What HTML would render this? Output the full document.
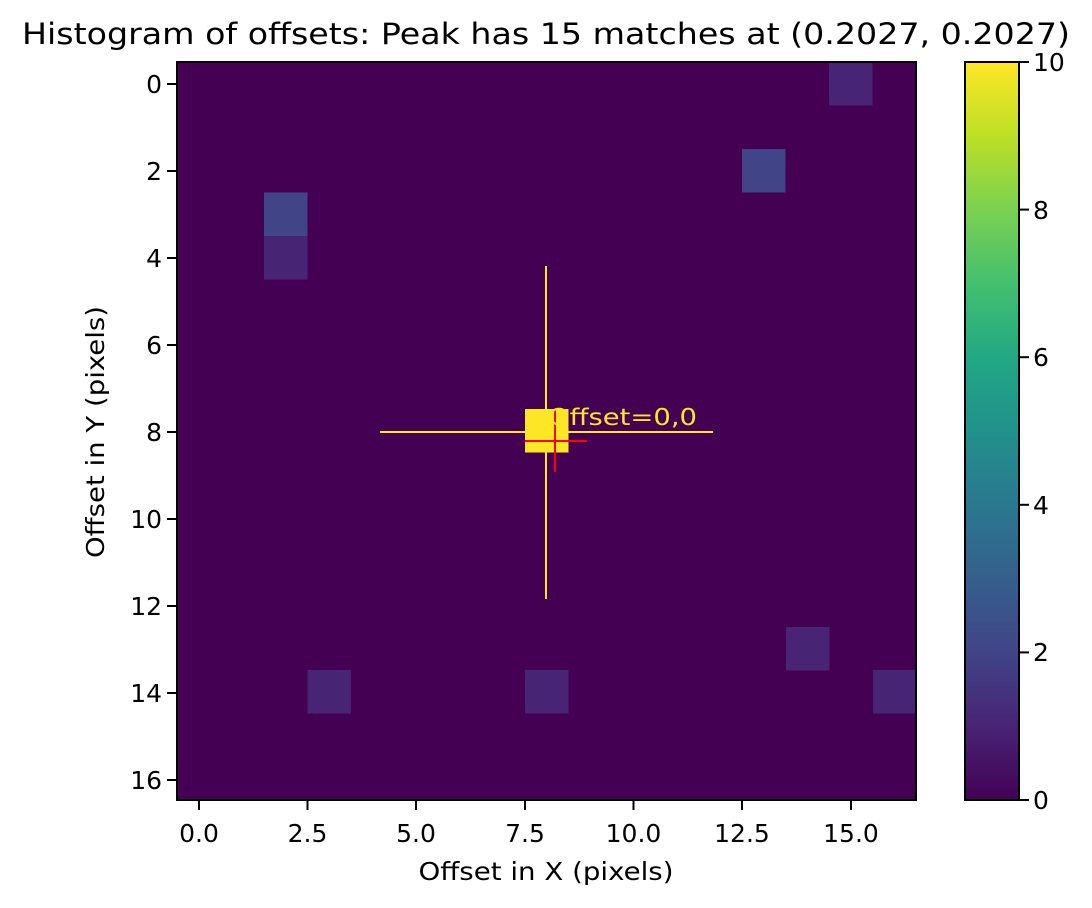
<!DOCTYPE html>
<html><head><style>body{margin:0;background:#fff}svg{display:block}text{font-family:"DejaVu Sans","Liberation Sans",sans-serif}</style></head>
<body>
<svg width="1092" height="908" viewBox="0 0 1092 908" xmlns="http://www.w3.org/2000/svg">
<defs>
<linearGradient id="v" x1="0" y1="1" x2="0" y2="0">
<stop offset="0" stop-color="#440154"/><stop offset="0.1" stop-color="#482475"/><stop offset="0.2" stop-color="#414487"/><stop offset="0.3" stop-color="#355f8d"/><stop offset="0.4" stop-color="#2a788e"/><stop offset="0.5" stop-color="#21918c"/><stop offset="0.6" stop-color="#22a884"/><stop offset="0.7" stop-color="#44bf70"/><stop offset="0.8" stop-color="#7ad151"/><stop offset="0.9" stop-color="#bddf26"/><stop offset="1" stop-color="#fde725"/>
</linearGradient>
</defs>
<text x="546" y="44" font-size="29" text-anchor="middle" textLength="1048" lengthAdjust="spacingAndGlyphs">Histogram of offsets: Peak has 15 matches at (0.2027, 0.2027)</text>
<rect x="177" y="62" width="739" height="738" fill="#440154"/>
<g>
<rect x="829" y="62" width="43.5" height="43.5" fill="#482475"/>
<rect x="742" y="149" width="43.5" height="43.5" fill="#414487"/>
<rect x="264" y="192.5" width="43.5" height="43.5" fill="#414487"/>
<rect x="264" y="236" width="43.5" height="43.5" fill="#482475"/>
<rect x="525" y="409" width="43.5" height="43.5" fill="#fde725"/>
<rect x="786" y="627" width="43.5" height="43.5" fill="#482475"/>
<rect x="307.5" y="670" width="43.5" height="43.5" fill="#482475"/>
<rect x="525" y="670" width="43.5" height="43.5" fill="#482475"/>
<rect x="873" y="670" width="43.5" height="43.5" fill="#482475"/>
</g>
<line x1="380" y1="432" x2="713" y2="432" stroke="#fde725" stroke-width="2"/>
<line x1="546" y1="266" x2="546" y2="599" stroke="#fde725" stroke-width="2"/>
<line x1="525" y1="441" x2="587" y2="441" stroke="#ff0000" stroke-width="2"/>
<line x1="555" y1="410" x2="555" y2="472" stroke="#ff0000" stroke-width="2"/>
<text x="548" y="425" font-size="23" fill="#fde725" textLength="149" lengthAdjust="spacingAndGlyphs">Offset=0,0</text>
<rect x="177" y="62" width="739" height="738" fill="none" stroke="#000" stroke-width="2"/>
<g font-size="25" text-anchor="middle">
<g stroke="#000" stroke-width="2">
<line x1="199" y1="800" x2="199" y2="810"/><line x1="307.5" y1="800" x2="307.5" y2="810"/><line x1="416" y1="800" x2="416" y2="810"/><line x1="525" y1="800" x2="525" y2="810"/><line x1="633.5" y1="800" x2="633.5" y2="810"/><line x1="742" y1="800" x2="742" y2="810"/><line x1="851" y1="800" x2="851" y2="810"/>
</g>
<text x="199" y="842">0.0</text><text x="307.5" y="842">2.5</text><text x="416" y="842">5.0</text><text x="525" y="842">7.5</text><text x="633.5" y="842">10.0</text><text x="742" y="842">12.5</text><text x="851" y="842">15.0</text>
<text x="546" y="880" textLength="255" lengthAdjust="spacingAndGlyphs">Offset in X (pixels)</text>
</g>
<g font-size="25" text-anchor="end">
<g stroke="#000" stroke-width="2">
<line x1="167" y1="84" x2="177" y2="84"/><line x1="167" y1="171" x2="177" y2="171"/><line x1="167" y1="258" x2="177" y2="258"/><line x1="167" y1="345" x2="177" y2="345"/><line x1="167" y1="432" x2="177" y2="432"/><line x1="167" y1="519" x2="177" y2="519"/><line x1="167" y1="606" x2="177" y2="606"/><line x1="167" y1="693" x2="177" y2="693"/><line x1="167" y1="780" x2="177" y2="780"/>
</g>
<text x="162" y="93">0</text><text x="162" y="180">2</text><text x="162" y="267">4</text><text x="162" y="354">6</text><text x="162" y="441">8</text><text x="162" y="528">10</text><text x="162" y="615">12</text><text x="162" y="702">14</text><text x="162" y="789">16</text>
<text transform="translate(104,432) rotate(-90)" text-anchor="middle" textLength="252" lengthAdjust="spacingAndGlyphs">Offset in Y (pixels)</text>
</g>
<rect x="965" y="62" width="54" height="738" fill="url(#v)" stroke="#000" stroke-width="2"/>
<g stroke="#000" stroke-width="2">
<line x1="1019" y1="800" x2="1029" y2="800"/><line x1="1019" y1="652.4" x2="1029" y2="652.4"/><line x1="1019" y1="504.8" x2="1029" y2="504.8"/><line x1="1019" y1="357.2" x2="1029" y2="357.2"/><line x1="1019" y1="209.6" x2="1029" y2="209.6"/><line x1="1019" y1="62" x2="1029" y2="62"/>
</g>
<g font-size="25">
<text x="1033" y="809">0</text><text x="1033" y="661">2</text><text x="1033" y="514">4</text><text x="1033" y="366">6</text><text x="1033" y="219">8</text><text x="1033" y="71">10</text>
</g>
</svg>
</body></html>
